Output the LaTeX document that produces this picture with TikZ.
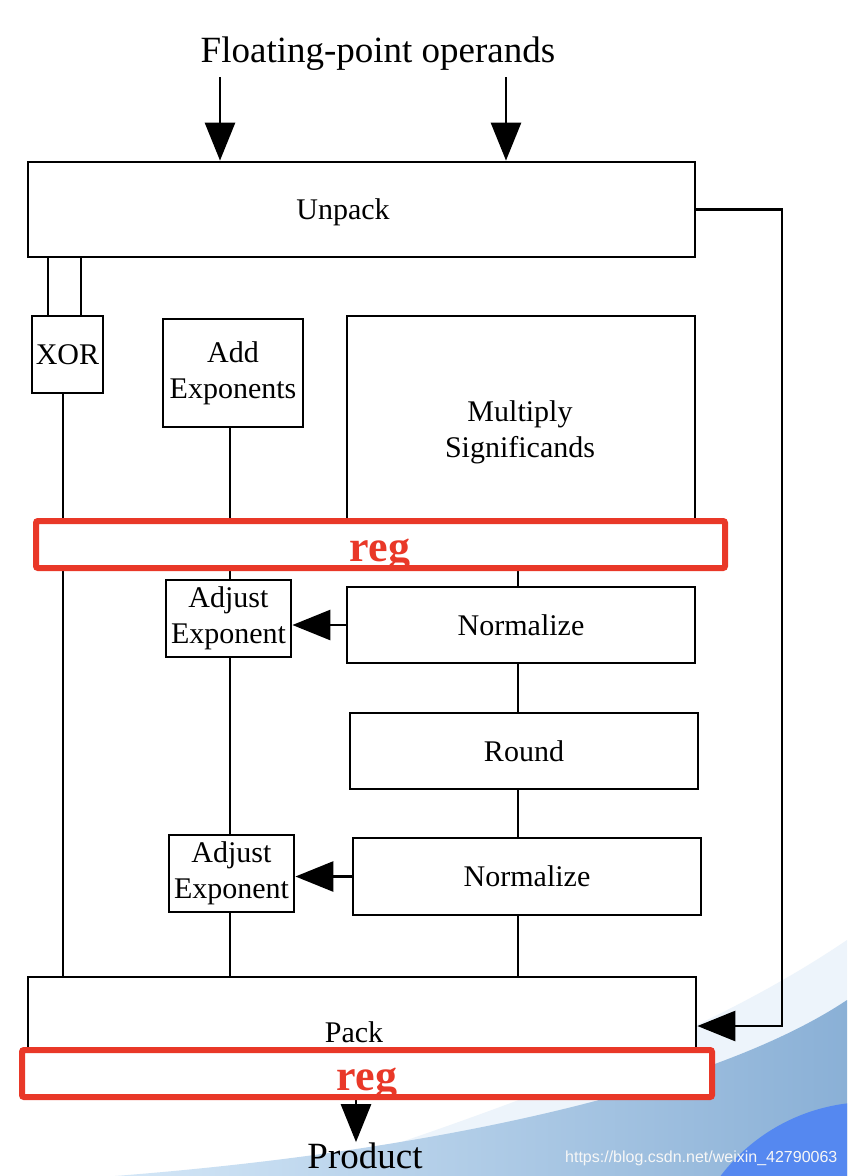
\documentclass[tikz,border=0pt]{standalone}
\usepackage{fontspec}
\usepackage{graphicx}
\setmainfont{Liberation Serif}
\setsansfont{Liberation Sans}
\usetikzlibrary{arrows.meta,calc}
\definecolor{regred}{RGB}{233,56,40}
\definecolor{bgpale}{RGB}{237,244,251}
\definecolor{bgl}{RGB}{212,231,247}
\definecolor{bgr}{RGB}{138,176,214}
\definecolor{bgblue}{RGB}{85,136,240}
\begin{document}
\begin{tikzpicture}[x=1pt,y=-1pt,
  box/.style={draw=black, line width=2.8pt, fill=white, inner sep=0pt, align=center,
    font=\fontsize{30}{36}\selectfont},
  regbox/.style={draw=regred, line width=6pt, fill=white, rounded corners=2pt, inner sep=0pt},
  regtext/.style={text=regred, font=\fontsize{44}{44}\selectfont\bfseries, inner sep=0pt, anchor=base},
  wire/.style={line width=2.8pt},
  arr/.style={line width=2.8pt, -{Triangle[width=30pt,length=38pt]}},
  lbl/.style={font=\fontsize{30}{36}\selectfont, inner sep=0pt, align=center},
  big/.style={font=\fontsize{37}{44}\selectfont, inner sep=0pt, anchor=base}]

\useasboundingbox (0,0) rectangle (847,1176);
\fill[white] (0,0) rectangle (847,1176);
\begin{scope}
  \clip (0,0) rectangle (847,1176);
  \fill[bgpale] (300,1176) .. controls (500,1110) and (700,1040) .. (847,940) -- (847,1176) -- cycle;
  \shade[left color=bgl, right color=bgr] (115,1176) .. controls (450,1150) and (720,1085) .. (847,1000) -- (847,1176) -- cycle;
  \fill[bgblue] (870,1290) circle[radius=188];
\end{scope}

% spines and free ends
\coordinate (xa) at (48,0);
\coordinate (xb) at (81,0);
\coordinate (xo) at (63,0);
\coordinate (ls) at (230,0);
\coordinate (rs) at (518,0);
\coordinate (fb) at (782,0);
\coordinate (pa) at (356,0);
\coordinate (in1) at (220,77);
\coordinate (in2) at (506,77);

% boxes
\node[box, minimum width=667pt, minimum height=95pt] (U) at (361.5,209.5) {};
\node[box, minimum width=71pt, minimum height=77pt] (X) at (67.5,354.5) {XOR};
\node[box, minimum width=140pt, minimum height=108pt] (A) at (233,373) {Add\\Exponents};
\node[box, minimum width=348pt, minimum height=229pt] (M) at (521,430.5) {};
\node[box, minimum width=125pt, minimum height=77pt] (J1) at (228.5,618.5) {Adjust\\Exponent};
\node[box, minimum width=348pt, minimum height=76pt] (N1) at (521,625) {Normalize};
\node[box, minimum width=348pt, minimum height=76pt] (R) at (524,751) {Round};
\node[box, minimum width=125pt, minimum height=77pt] (J2) at (231.5,873.5) {Adjust\\Exponent};
\node[box, minimum width=348pt, minimum height=77pt] (N2) at (527,876.5) {Normalize};
\node[box, minimum width=668pt, minimum height=98pt] (P) at (362,1026) {};

% texts
\node[big] (title) at (378,62) {Floating-point operands};
\node[big] (prod) at (365,1168) {Product};
\node[lbl] (ulbl) at (343,212) {Unpack};
\node[lbl] (mlbl) at (520,432) {Multiply\\Significands};
\node[lbl] (plbl) at (354,1032) {Pack};

% connectors
\draw[arr] (in1) -- (in1 |- U.north);
\draw[arr] (in2) -- (in2 |- U.north);
\draw[wire] (U.south -| xa) -- (X.north -| xa);
\draw[wire] (U.south -| xb) -- (X.north -| xb);
\draw[wire] (X.south -| xo) -- (P.north -| xo);
\draw[wire] (A.south -| ls) -- (J1.north -| ls);
\draw[wire] (J1.south -| ls) -- (J2.north -| ls);
\draw[wire] (J2.south -| ls) -- (P.north -| ls);
\draw[wire] (M.south -| rs) -- (N1.north -| rs);
\draw[wire] (N1.south -| rs) -- (R.north -| rs);
\draw[wire] (R.south -| rs) -- (N2.north -| rs);
\draw[wire] (N2.south -| rs) -- (P.north -| rs);
\draw[arr] (N1.west) -- (N1.west -| J1.east);
\draw[arr] (N2.west) -- (N2.west -| J2.east);
\draw[arr] (U.east) -- (U.east -| fb) -- (P.east -| fb) -- (P.east);
\draw[arr] (P.south -| pa) -- (prod.north -| pa);

% registers
\node[regbox, minimum width=689pt, minimum height=47pt] (reg1) at (380.5,544.5) {};
\node[regtext] (reg1t) at (380,561) {reg};
\node[regbox, minimum width=690pt, minimum height=47pt] (reg2) at (367,1073.5) {};
\node[regtext] (reg2t) at (367,1090) {reg};

% watermark
\node[anchor=base west, inner sep=0pt, text=white!94!gray, font=\sffamily\fontsize{16}{16}\selectfont] (wm) at (565,1162) {https://blog.csdn.net/weixin\_42790063};
\end{tikzpicture}
\end{document}
